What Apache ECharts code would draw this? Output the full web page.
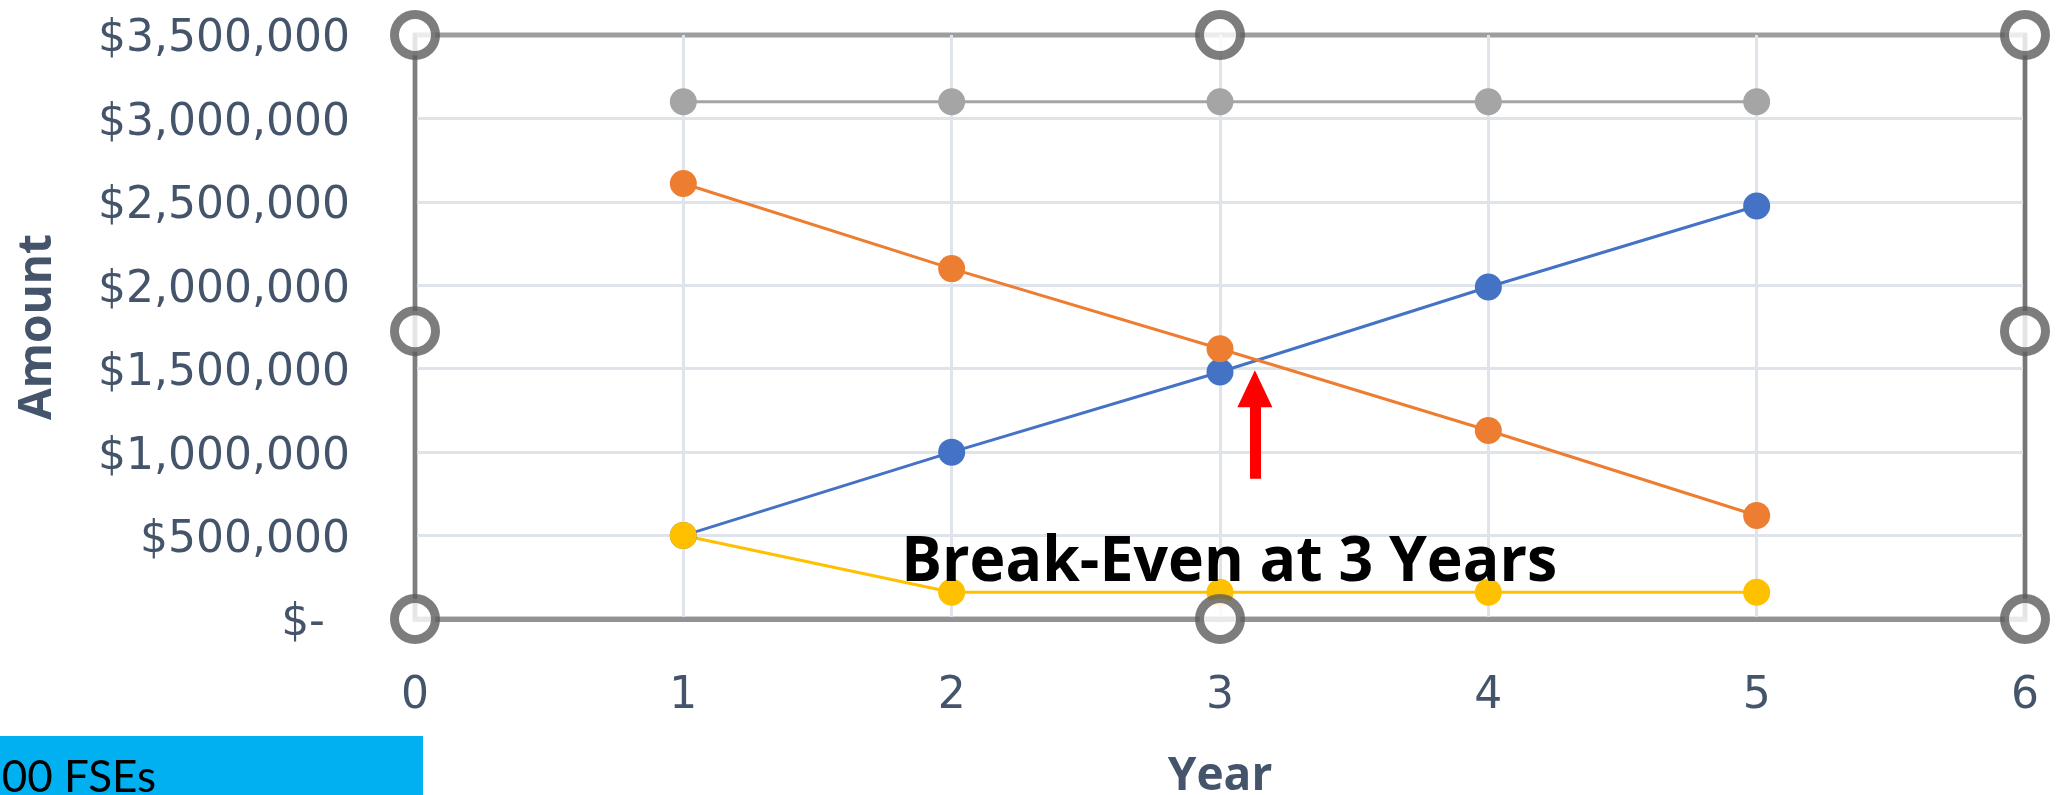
<!DOCTYPE html>
<html>
<head>
<meta charset="utf-8">
<script src="https://cdn.jsdelivr.net/npm/echarts@6/dist/echarts.min.js"></script>
<style>
  html, body { margin: 0; padding: 0; background: #ffffff; overflow: hidden; }
  #chart { width: 2061px; height: 795px; }
</style>
</head>
<body>
<div id="chart"></div>
<script>
// Year on the x axis, dollar amounts on the y axis
const years = [1, 2, 3, 4, 5];
const blueValues = [500000, 1000000, 1480000, 1990000, 2475000];
const orangeValues = [2610000, 2100000, 1620000, 1130000, 620000];
const grayValues = [3100000, 3100000, 3100000, 3100000, 3100000];
const yellowValues = [500000, 160000, 160000, 160000, 160000];

// Axis ranges and tick spacing
const xMin = 0, xMax = 6, xStep = 1;
const yMin = 0, yMax = 3500000, yStep = 500000;

// Frame handles around the plot area, in data units
const handleX = [0, 3, 6, 0, 6, 0, 3, 6];
const handleY = [0, 0, 0, 1725000, 1725000, 3500000, 3500000, 3500000];

// Break-even pointer (arrow) and its caption, in data units
const arrowX = 3.13;
const arrowTail = 840000;
const arrowHeadCentre = 1380000;
const noteText = 'Break-Even at 3 Years';
const noteAnchor = [1.812, 335000];
const boxText = '00 FSEs';

const labelColor = '#44546A';
const tickFont = 'DejaVu Sans';
const tickSize = 44;
const titleFont = 'Open Sans';

const pair = (xs, ys) => xs.map((x, i) => [x, ys[i]]);

function lineSeries(name, values, color) {
  return {
    name: name,
    type: 'line',
    data: pair(years, values),
    symbol: 'circle',
    symbolSize: 27,
    showSymbol: true,
    lineStyle: { color: color, width: 3 },
    itemStyle: { color: color },
    emphasis: { disabled: true },
    silent: true
  };
}

const tickStyle = { fontSize: tickSize, color: labelColor, fontFamily: tickFont };

const chart = echarts.init(document.getElementById('chart'), null, { renderer: 'canvas' });

const blue = lineSeries('Series1', blueValues, '#4472C4');
blue.markLine = {
  silent: true,
  animation: false,
  label: { show: false },
  emphasis: { disabled: true },
  lineStyle: { color: '#FF0000', width: 11, type: 'solid' },
  data: [[
    { coord: [arrowX, arrowTail], symbol: 'none' },
    { coord: [arrowX, arrowHeadCentre], symbol: 'triangle', symbolSize: [35, 37] }
  ]]
};

const option = {
  animation: false,
  backgroundColor: '#ffffff',
  grid: {
    left: 415, right: 36, top: 35, bottom: 176,
    outerBoundsMode: 'none',
    containLabel: false,
    show: true, borderColor: '#9e9e9e', borderWidth: 5, backgroundColor: 'transparent'
  },
  xAxis: [{
    type: 'value', min: xMin, max: xMax, interval: xStep,
    axisLine: { show: true, onZero: false, lineStyle: { color: '#939393', width: 5 } },
    axisTick: { show: false },
    splitLine: { show: true, showMinLine: false, showMaxLine: false, lineStyle: { color: '#dfe3ea', width: 3 } },
    axisLabel: {
      margin: 56, fontSize: tickSize, color: labelColor, fontFamily: tickFont,
      formatter: v => '{t|' + v + '}',
      rich: { t: tickStyle }
    },
    name: 'Year', nameLocation: 'middle', nameGap: 135,
    nameTextStyle: { fontSize: 46, fontWeight: 'bold', color: labelColor, fontFamily: titleFont }
  }],
  yAxis: [{
    type: 'value', min: yMin, max: yMax, interval: yStep,
    axisLine: { show: true, onZero: false, lineStyle: { color: '#7f7f7f', width: 4 } },
    axisTick: { show: false },
    splitLine: { show: true, showMinLine: false, showMaxLine: false, lineStyle: { color: '#dfe3ea', width: 3 } },
    axisLabel: {
      margin: 65, fontSize: tickSize, color: labelColor, fontFamily: tickFont,
      formatter: v => v === 0 ? '{z|$-}' : '{t|$' + v.toLocaleString('en-US') + '}',
      rich: {
        t: Object.assign({ padding: [10, 0, 0, 0] }, tickStyle),
        z: Object.assign({ padding: [10, 25, 0, 0] }, tickStyle)
      }
    },
    name: 'Amount', nameLocation: 'middle', nameGap: 354,
    nameTextStyle: { fontSize: 46, fontWeight: 'bold', color: labelColor, fontFamily: titleFont }
  }, {
    type: 'value', position: 'right', min: yMin, max: yMax, interval: yStep,
    axisLine: { show: true, onZero: false, lineStyle: { color: '#777777', width: 4 } },
    axisTick: { show: false }, axisLabel: { show: false }, splitLine: { show: false }
  }],
  series: [
    blue,
    lineSeries('Series2', orangeValues, '#ED7D31'),
    lineSeries('Series3', grayValues, '#A5A5A5'),
    lineSeries('Series4', yellowValues, '#FFC000'),
    {
      name: 'Handles',
      type: 'scatter',
      data: pair(handleX, handleY),
      symbol: 'circle',
      symbolSize: 41,
      clip: false,
      silent: true,
      z: 10,
      itemStyle: { color: '#ffffff', borderColor: '#5c5c5c', borderWidth: 9 },
      emphasis: { disabled: true }
    }
  ]
};

chart.setOption(option);

// Caption and corner box, placed after the axes are laid out
const ctx = document.createElement('canvas').getContext('2d');
const noteFont = 'bold 63px "Open Sans"';
ctx.font = noteFont;
const noteScaleX = 656 / ctx.measureText(noteText).width;
const notePx = chart.convertToPixel({ gridIndex: 0 }, noteAnchor);

const boxFont = '44px Lato';
ctx.font = boxFont;
const boxLead = ctx.measureText('00 ').width;

chart.setOption({
  graphic: [
    {
      type: 'text', x: notePx[0], y: notePx[1], scaleX: noteScaleX, z: 20, silent: true,
      style: { text: noteText, font: noteFont, fill: '#000000', align: 'left', verticalAlign: 'middle' }
    },
    {
      type: 'rect', shape: { x: 0, y: 736, width: 423, height: 70 }, z: 20, silent: true,
      style: { fill: '#00B0F0' }
    },
    {
      type: 'text', x: 64 - boxLead, y: 778, z: 21, silent: true,
      style: { text: boxText, font: boxFont, fill: '#000000', align: 'left', verticalAlign: 'middle' }
    }
  ]
});
</script>
</body>
</html>
